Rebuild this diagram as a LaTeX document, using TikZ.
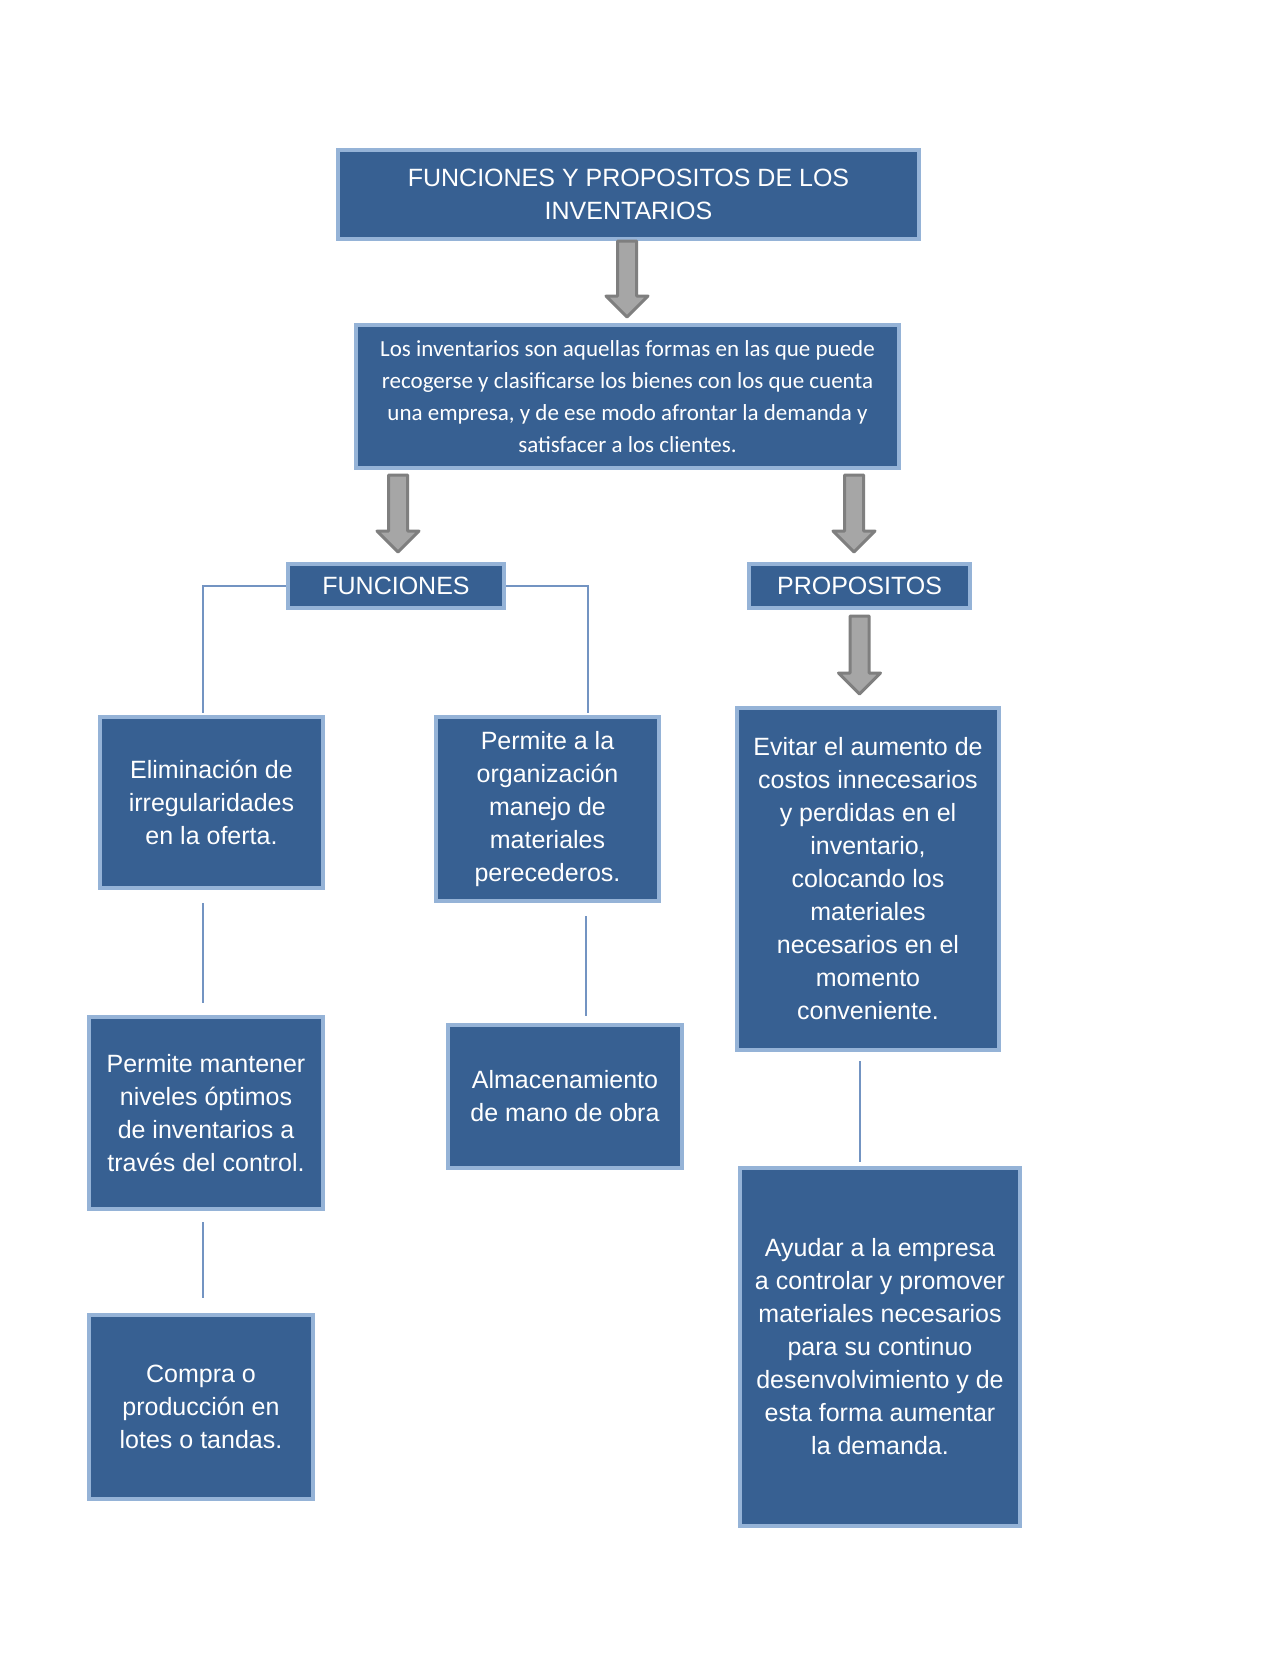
\documentclass[tikz,border=0pt]{standalone}
\usepackage{fontspec}
\setmainfont{Liberation Sans}
\newfontfamily\calib{Carlito}
\usetikzlibrary{calc}
\definecolor{boxfill}{HTML}{376092}
\definecolor{boxline}{HTML}{95B3D7}
\definecolor{conline}{HTML}{7394C2}
\definecolor{arrfill}{HTML}{A6A6A6}
\definecolor{arrline}{HTML}{7F7F7F}
\tikzset{
  bx/.style={draw=boxline, line width=4pt, fill=boxfill, text=white, inner sep=0pt, align=center,
    font=\fontsize{25}{33}\selectfont},
  con/.style={draw=conline, line width=1.6pt},
  blk/.style={draw=arrline, fill=arrfill, line width=3pt, line join=round},
}
\newcommand{\blockarr}[2]{%
  \path[blk] ($(#1)+(-9.5,0)$) -- ($(#1)+(9.5,0)$) -- ($(#2)+(9.5,-21)$) -- ($(#2)+(21,-21)$) --
    (#2) -- ($(#2)+(-21,-21)$) -- ($(#2)+(-9.5,-21)$) -- cycle;}
\begin{document}
\begin{tikzpicture}[x=1pt,y=-1pt]
\useasboundingbox[fill=white] (0,0) rectangle (1280,1656);
% boxes (outer size minus line width)
\node[bx, minimum width=581, minimum height=89] (title) at (628.5,194.5)
  {FUNCIONES Y PROPOSITOS DE LOS\\INVENTARIOS};
\node[bx, minimum width=543, minimum height=143, font=\calib\fontsize{23}{32}\selectfont] (def) at (627.5,396.5)
  {Los inventarios son aquellas formas en las que puede\\recogerse y clasificarse los bienes con los que cuenta\\una empresa, y de ese modo afrontar la demanda y\\satisfacer a los clientes.};
\node[bx, minimum width=216, minimum height=44] (fun) at (396,586) {FUNCIONES};
\node[bx, minimum width=221, minimum height=44] (prop) at (859.5,586) {PROPOSITOS};
\node[bx, minimum width=223, minimum height=171] (elim) at (211.5,802.5)
  {Eliminación de\\irregularidades\\en la oferta.};
\node[bx, minimum width=223, minimum height=184] (porg) at (547.5,809)
  {Permite a la\\organización\\manejo de\\materiales\\perecederos.};
\node[bx, minimum width=262, minimum height=342] (evit) at (868,879)
  {Evitar el aumento de\\costos innecesarios\\y perdidas en el\\inventario,\\colocando los\\materiales\\necesarios en el\\momento\\conveniente.};
\node[bx, minimum width=234, minimum height=192] (mant) at (206,1113)
  {Permite mantener\\niveles óptimos\\de inventarios a\\través del control.};
\node[bx, minimum width=224, minimum height=184] (compra) at (201,1407)
  {Compra o\\producción en\\lotes o tandas.};
\node[bx, minimum width=234, minimum height=143] (almac) at (565,1096.5)
  {Almacenamiento\\de mano de obra};
\node[bx, minimum width=280, minimum height=358] (ayud) at (880,1347)
  {Ayudar a la empresa\\a controlar y promover\\materiales necesarios\\para su continuo\\desenvolvimiento y de\\esta forma aumentar\\la demanda.};
% block arrows
\coordinate (a1s) at (627,241); \coordinate (a1e) at (627,317);
\coordinate (a2s) at (398,475); \coordinate (a2e) at (398,552);
\coordinate (a3s) at (854,475); \coordinate (a3e) at (854,552);
\coordinate (a4s) at (859.5,616); \coordinate (a4e) at (859.5,694);
\blockarr{a1s}{a1e}
\blockarr{a2s}{a2e}
\blockarr{a3s}{a3e}
\blockarr{a4s}{a4e}
% connectors
\coordinate (c1) at (203,713);
\coordinate (c2) at (588,713);
\draw[con] (fun.west) -| (c1);
\draw[con] (fun.east) -| (c2);
\coordinate (l1a) at (203,903); \coordinate (l1b) at (203,1003);
\coordinate (l2a) at (203,1222); \coordinate (l2b) at (203,1298);
\coordinate (l3a) at (586,916); \coordinate (l3b) at (586,1016);
\coordinate (l4a) at (860,1061); \coordinate (l4b) at (860,1162);
\draw[con] (l1a) -- (l1b);
\draw[con] (l2a) -- (l2b);
\draw[con] (l3a) -- (l3b);
\draw[con] (l4a) -- (l4b);
\end{tikzpicture}
\end{document}
